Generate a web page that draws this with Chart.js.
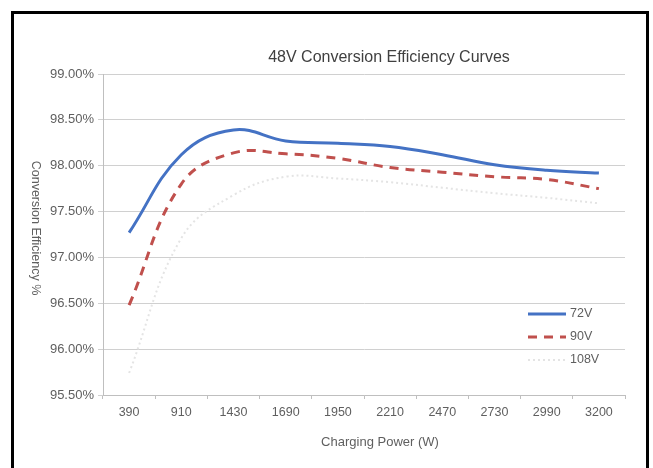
<!DOCTYPE html>
<html>
<head>
<meta charset="utf-8">
<script src="https://cdn.jsdelivr.net/npm/chart.js@4"></script>
<style>
  body { margin: 0; background: #fff; }
  #wrap { width: 653px; height: 468px; position: relative; }
</style>
</head>
<body>
<div id="wrap"><canvas id="chartEfficiency" width="653" height="468"></canvas></div>
<script>
const powerLabels = ['390', '910', '1430', '1690', '1950', '2210', '2470', '2730', '2990', '3200'];
const eff72V = [97.27, 98.12, 98.39, 98.27, 98.245, 98.21, 98.12, 98.01, 97.95, 97.92];
const eff90V = [96.48, 97.80, 98.14, 98.13, 98.08, 97.98, 97.93, 97.88, 97.85, 97.75];
const eff108V = [95.74, 97.21, 97.68, 97.88, 97.86, 97.82, 97.76, 97.70, 97.65, 97.59];

const yMin = 95.5;
const yMax = 99;
const yStep = 0.5;

const FONT = 'Liberation Sans, Arial, sans-serif';
const TEXT = '#5f5f5f';

// frame, title, rotated y title and legend inside the plot
const extras = {
  id: 'extras',
  beforeDraw(chart) {
    const ctx = chart.ctx;
    ctx.save();
    ctx.fillStyle = '#fff';
    ctx.fillRect(0, 0, chart.width, chart.height);
    ctx.strokeStyle = '#000';
    ctx.lineWidth = 3;
    ctx.strokeRect(12.5, 12.5, 635, 480);
    ctx.restore();
  },
  afterDraw(chart) {
    const ctx = chart.ctx;
    ctx.save();
    ctx.fillStyle = '#404040';
    ctx.font = '16px ' + FONT;
    ctx.textAlign = 'center';
    ctx.textBaseline = 'middle';
    ctx.fillText('48V Conversion Efficiency Curves', 389, 58);

    ctx.fillStyle = TEXT;
    ctx.font = '13px ' + FONT;
    ctx.fillText('Charging Power (W)', 380, 442);

    ctx.font = '12.5px ' + FONT;
    ctx.translate(35, 228);
    ctx.rotate(Math.PI / 2);
    ctx.fillText('Conversion Efficiency %', 0, 0);
    ctx.restore();

    // legend
    ctx.save();
    const ys = [314, 337, 360];
    chart.data.datasets.forEach((ds, i) => {
      ctx.beginPath();
      ctx.strokeStyle = ds.borderColor;
      ctx.lineWidth = ds.borderWidth;
      ctx.setLineDash(ds.borderDash || []);
      ctx.moveTo(528, ys[i]);
      ctx.lineTo(566, ys[i]);
      ctx.stroke();
      ctx.setLineDash([]);
      ctx.fillStyle = TEXT;
      ctx.font = '12.5px ' + FONT;
      ctx.textAlign = 'left';
      ctx.textBaseline = 'middle';
      ctx.fillText(ds.label, 570, ys[i]);
    });
    ctx.restore();
  }
};

new Chart(document.getElementById('chartEfficiency'), {
  type: 'line',
  data: {
    labels: powerLabels,
    datasets: [
      {
        label: '72V',
        data: eff72V,
        borderColor: '#4472c4',
        borderWidth: 3,
        pointRadius: 0,
        tension: 0.4
      },
      {
        label: '90V',
        data: eff90V,
        borderColor: '#c0504d',
        borderWidth: 3,
        borderDash: [9, 7],
        pointRadius: 0,
        tension: 0.4
      },
      {
        label: '108V',
        data: eff108V,
        borderColor: '#e4e4e4',
        borderWidth: 2,
        borderDash: [2, 3],
        pointRadius: 0,
        tension: 0.4
      }
    ]
  },
  options: {
    responsive: false,
    animation: false,
    layout: {
      padding: { left: 0, top: 74, right: 28, bottom: 0 }
    },
    plugins: {
      legend: { display: false },
      title: { display: false },
      tooltip: { enabled: false }
    },
    scales: {
      x: {
        offset: true,
        grid: {
          offset: true,
          drawOnChartArea: false,
          drawTicks: true,
          tickLength: 4,
          color: '#bfbfbf'
        },
        border: { color: '#bfbfbf' },
        ticks: {
          color: TEXT,
          font: { family: FONT, size: 12.5 },
          padding: 6,
          maxRotation: 0,
          autoSkip: false
        },
        afterFit(scale) { scale.height = 73; }
      },
      y: {
        min: yMin,
        max: yMax,
        grid: {
          color: '#d0d0d0',
          tickLength: 5
        },
        border: { color: '#bfbfbf' },
        ticks: {
          stepSize: yStep,
          color: TEXT,
          font: { family: FONT, size: 13 },
          padding: 4,
          callback: (v) => v.toFixed(2) + '%'
        },
        afterFit(scale) { scale.width = 103; }
      }
    }
  },
  plugins: [extras]
});
</script>
</body>
</html>
